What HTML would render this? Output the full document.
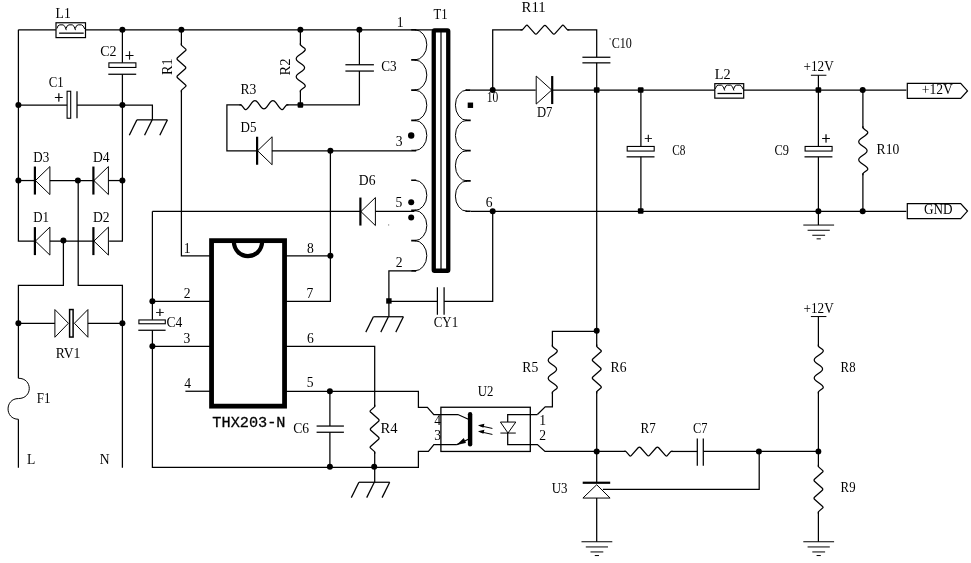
<!DOCTYPE html>
<html lang="en"><head><meta charset="utf-8"><title>THX203-N 12V flyback power supply schematic</title>
<style>html,body{margin:0;padding:0;background:#fff}svg{display:block}text{font-family:"Liberation Serif",serif;fill:#000}</style></head><body>
<svg width="971" height="563" viewBox="0 0 971 563">
<rect width="971" height="563" fill="#fff"/>
<g transform="translate(0.4,0.25)">
<g>
<rect x="55.6" y="22.5" width="29.5" height="14.85" fill="#fff" stroke="#000" stroke-width="1.2"/>
<rect x="66.7" y="91" width="3.6" height="27" fill="#fff" stroke="#000" stroke-width="1.1"/>
<rect x="108.5" y="62.6" width="27" height="4.6" fill="#fff" stroke="#000" stroke-width="1.1"/>
<line x1="34.5" y1="166.3" x2="34.5" y2="194.3" stroke="#000" stroke-width="2.2"/>
<line x1="93" y1="166.3" x2="93" y2="194.3" stroke="#000" stroke-width="2.2"/>
<line x1="34.5" y1="226.85" x2="34.5" y2="254.85" stroke="#000" stroke-width="2.2"/>
<line x1="93" y1="226.85" x2="93" y2="254.85" stroke="#000" stroke-width="2.2"/>
<rect x="69.2" y="309.3" width="3.5" height="27.5" fill="#fff" stroke="#000" stroke-width="1.5"/>
<line x1="256.7" y1="136.5" x2="256.7" y2="164.5" stroke="#000" stroke-width="2.2"/>
<rect x="433.35" y="30.1" width="14.5" height="240.4" rx="0.8" fill="#fff" stroke="#000" stroke-width="4.3"/>
<line x1="440.6" y1="30" x2="440.6" y2="270" stroke="#000" stroke-width="1.2"/>
<rect x="467.3" y="102.3" width="5.4" height="5.4" fill="#000"/>
<line x1="360" y1="197.3" x2="360" y2="225.3" stroke="#000" stroke-width="2.2"/>
<rect x="385.8" y="298" width="5.4" height="5.4" fill="#000"/>
<rect x="387.6" y="224.2" width="1.2" height="1" fill="#777"/>
<rect x="211.15" y="240.4" width="73" height="165.5" fill="#fff" stroke="#000" stroke-width="4.8"/>
<path d="M233.4,241 C234,260.8 261.2,260.8 261.8,241" fill="none" stroke="#000" stroke-width="4.2"/>
<rect x="138.5" y="319.7" width="26.4" height="3.8" fill="#fff" stroke="#000" stroke-width="1.1"/>
<rect x="440.5" y="407" width="89.4" height="44.2" fill="none" stroke="#000" stroke-width="1.3"/>
<line x1="469.7" y1="414" x2="469.7" y2="444" stroke="#000" stroke-width="4.4" stroke-linecap="round"/>
<path d="M457,444.2 L463.2,438.2 L465.2,442.4 Z" fill="#000" stroke="#000" stroke-width="0.6"/>
<path d="M477.6,425 L484,423.6 L483,427.6 Z M477.6,431 L484,429.6 L483,433.6 Z" fill="#000"/>
<line x1="551.8" y1="75.8" x2="551.8" y2="103.8" stroke="#000" stroke-width="2.2"/>
<rect x="714.4" y="83.4" width="28.9" height="14.5" fill="#fff" stroke="#000" stroke-width="1.2"/>
<path d="M906.9,83.2 H960.3 L967.1,90.7 L960.3,98.2 H906.9 Z" fill="#fff" stroke="#000" stroke-width="1.2"/>
<path d="M906.9,203.3 H960.3 L967.1,210.8 L960.3,218.3 H906.9 Z" fill="#fff" stroke="#000" stroke-width="1.2"/>
<rect x="626.8" y="146.2" width="27" height="4.6" fill="#fff" stroke="#000" stroke-width="1.1"/>
<rect x="804.7" y="146.2" width="27" height="4.6" fill="#fff" stroke="#000" stroke-width="1.1"/>
<line x1="582.3" y1="482.5" x2="609.8" y2="482.5" stroke="#000" stroke-width="2.2"/>
</g>
<g fill="none" stroke="#000" stroke-width="1.25" stroke-linejoin="miter">
<path d="M18,29.5 L55.5,29.5"/>
<path d="M85.1,29.5 L432,29.5"/>
<path d="M58.7,32.9 L83.3,32.9"/>
<path d="M18,29.5 L18,240.85 L34.5,240.85"/>
<path d="M18,104.8 L66.7,104.8"/>
<path d="M76.6,91 L76.6,118"/>
<path d="M76.6,104.8 L152,104.8 L152,119.6"/>
<path d="M136.5,119.6 L167,119.6"/>
<path d="M136.5,119.6 L128.9,135"/>
<path d="M151.75,119.6 L144.15,135"/>
<path d="M167,119.6 L159.4,135"/>
<path d="M122,29.5 L122,62.5"/>
<path d="M107.9,74 L135.8,74"/>
<path d="M122,74 L122,240.85 L108.75,240.85"/>
<path d="M18,180.3 L34.5,180.3"/>
<path d="M49.5,180.3 L93,180.3"/>
<path d="M108,180.3 L122,180.3"/>
<path d="M49.5,240.85 L93,240.85"/>
<path d="M77.8,180 L77.8,285 L122,285 L122,467.5"/>
<path d="M63,240.5 L63,285 L18,285 L18,378"/>
<path d="M18,419 L18,467.5"/>
<path d="M18,323 L54.5,323"/>
<path d="M87.5,323 L122,323"/>
<path d="M181,29.5 L181,45"/>
<path d="M181,43 L181,44.72 Q181,45 181.71,45.63 L185.39,48.87 Q186.1,49.5 184.67,50.76 L177.33,57.24 Q175.9,58.5 177.33,59.76 L184.67,66.24 Q186.1,67.5 184.67,68.76 L177.33,75.24 Q175.9,76.5 177.33,77.76 L184.67,84.24 Q186.1,85.5 185.39,86.13 L181.71,89.37 Q181,90 181,90.28 L181,92"/>
<path d="M181,90 L181,255.5 L210.5,255.5"/>
<path d="M300,29.5 L300,45"/>
<path d="M300,43 L300,44.34 Q300,45 302.08,46.48 L304.22,48.02 Q306.3,49.5 302.14,52.47 L297.86,55.53 Q293.7,58.5 297.86,61.47 L302.14,64.53 Q306.3,67.5 302.14,70.47 L297.86,73.53 Q293.7,76.5 297.86,79.47 L302.14,82.53 Q306.3,85.5 304.22,86.98 L302.08,88.52 Q300,90 300,90.66 L300,92"/>
<path d="M300,90 L300,104.5"/>
<path d="M359,29.5 L359,64.5"/>
<path d="M345,64.5 L373.5,64.5"/>
<path d="M345,70.8 L373.5,70.8"/>
<path d="M359,70.8 L359,104.5 L286,104.5"/>
<path d="M239,104.5 L240.34,104.5 Q241,104.5 242.49,106.58 L244.01,108.72 Q245.5,110.8 248.47,106.64 L251.53,102.36 Q254.5,98.2 257.47,102.36 L260.53,106.64 Q263.5,110.8 266.47,106.64 L269.53,102.36 Q272.5,98.2 275.47,102.36 L278.53,106.64 Q281.5,110.8 282.99,108.72 L284.51,106.58 Q286,104.5 286.66,104.5 L288,104.5"/>
<path d="M241,104.5 L226.5,104.5 L226.5,150.5 L256.7,150.5"/>
<path d="M271.5,150.5 L411,150.5"/>
<path d="M330,150.5 L330,301 L285.5,301"/>
<path d="M285.5,255.5 L330,255.5"/>
<path d="M152,211.1 L360,211.1"/>
<path d="M375,211.1 L414,211.1"/>
<path d="M411,270.6 L388.5,270.6 L388.5,316.5"/>
<path d="M373,316.5 L403,316.5"/>
<path d="M373,316.5 L365.4,331.9"/>
<path d="M388,316.5 L380.4,331.9"/>
<path d="M403,316.5 L395.4,331.9"/>
<path d="M388.5,301 L437,301"/>
<path d="M437,287 L437,314.5"/>
<path d="M443.7,287 L443.7,314.5"/>
<path d="M443.7,301 L492.3,301 L492.3,211"/>
<path d="M152,211.1 L152,319.5"/>
<path d="M137.9,330 L165.2,330"/>
<path d="M152,330 L152,467 L418,467 L418,451.2 L428,451.2 L433.5,444.4 L456.5,444.4"/>
<path d="M152,301 L210.5,301"/>
<path d="M152,346 L210.5,346"/>
<path d="M185,391 L210.5,391"/>
<path d="M285.5,346 L374.3,346 L374.3,406.5"/>
<path d="M374.3,404.5 L374.3,406.22 Q374.3,406.5 373.59,407.13 L369.91,410.37 Q369.2,411 370.63,412.26 L377.97,418.74 Q379.4,420 377.97,421.26 L370.63,427.74 Q369.2,429 370.63,430.26 L377.97,436.74 Q379.4,438 377.97,439.26 L370.63,445.74 Q369.2,447 369.91,447.63 L373.59,450.87 Q374.3,451.5 374.3,451.78 L374.3,453.5"/>
<path d="M374.3,451.5 L374.3,482"/>
<path d="M358.5,482 L389.3,482"/>
<path d="M358.5,482 L350.9,497.4"/>
<path d="M373.9,482 L366.3,497.4"/>
<path d="M389.3,482 L381.7,497.4"/>
<path d="M285.5,391 L418,391 L418,407 L427,407 L433.4,414.3 L457.5,414.3 L468,419"/>
<path d="M329.5,391 L329.5,425.8"/>
<path d="M316.2,425.8 L343.5,425.8"/>
<path d="M316.2,432 L343.5,432"/>
<path d="M329.5,432 L329.5,467"/>
<path d="M456.5,444.4 L468,439"/>
<path d="M537,414.3 L507.3,414.3 L507.3,421.8"/>
<path d="M507.3,432.8 L507.3,444.4 L537,444.4 L544.6,451.2 L625.5,451.2"/>
<path d="M470.5,89.8 L535.3,89.8"/>
<path d="M551.8,89.8 L714.4,89.8"/>
<path d="M743.3,89.8 L906,89.8"/>
<path d="M492.3,89.8 L492.3,29.5 L522,29.5"/>
<path d="M520,29.5 L521.72,29.5 Q522,29.5 522.63,28.79 L525.87,25.11 Q526.5,24.4 527.76,25.83 L534.24,33.17 Q535.5,34.6 536.76,33.17 L543.24,25.83 Q544.5,24.4 545.76,25.83 L552.24,33.17 Q553.5,34.6 554.76,33.17 L561.24,25.83 Q562.5,24.4 563.13,25.11 L566.37,28.79 Q567,29.5 567.28,29.5 L569,29.5"/>
<path d="M567,29.5 L596.3,29.5 L596.3,57"/>
<path d="M582,57 L610,57"/>
<path d="M582,62.6 L610,62.6"/>
<path d="M596.3,62.6 L596.3,346.3"/>
<path d="M717.1,93.25 L741.7,93.25"/>
<path d="M470.5,211 L906,211"/>
<path d="M640.5,89.8 L640.5,146"/>
<path d="M626.2,156.6 L654.1,156.6"/>
<path d="M640.5,156.6 L640.5,211"/>
<path d="M818,75 L818,146"/>
<path d="M804.1,156.6 L832,156.6"/>
<path d="M818,156.6 L818,224.8"/>
<path d="M862.5,89.8 L862.5,128"/>
<path d="M862.5,126 L862.5,127.34 Q862.5,128 864.58,129.49 L866.72,131.01 Q868.8,132.5 864.64,135.47 L860.36,138.53 Q856.2,141.5 860.36,144.47 L864.64,147.53 Q868.8,150.5 864.64,153.47 L860.36,156.53 Q856.2,159.5 860.36,162.47 L864.64,165.53 Q868.8,168.5 866.72,169.99 L864.58,171.51 Q862.5,173 862.5,173.66 L862.5,175"/>
<path d="M862.5,173 L862.5,211"/>
<path d="M596.3,331 L552,331 L552,346.5"/>
<path d="M552,344.5 L552,345.84 Q552,346.5 554.08,347.99 L556.22,349.51 Q558.3,351 554.14,353.97 L549.86,357.03 Q545.7,360 549.86,362.97 L554.14,366.03 Q558.3,369 554.14,371.97 L549.86,375.03 Q545.7,378 549.86,380.97 L554.14,384.03 Q558.3,387 556.22,388.49 L554.08,390.01 Q552,391.5 552,392.16 L552,393.5"/>
<path d="M552,391.5 L552,406.5 L544.8,406.5 L537,414.3"/>
<path d="M596.3,344.3 L596.3,346.02 Q596.3,346.3 597.01,346.93 L600.69,350.17 Q601.4,350.8 599.97,352.06 L592.63,358.54 Q591.2,359.8 592.63,361.06 L599.97,367.54 Q601.4,368.8 599.97,370.06 L592.63,376.54 Q591.2,377.8 592.63,379.06 L599.97,385.54 Q601.4,386.8 600.69,387.43 L597.01,390.67 Q596.3,391.3 596.3,391.58 L596.3,393.3"/>
<path d="M596.3,391.3 L596.3,482"/>
<path d="M623.5,451.2 L625.22,451.2 Q625.5,451.2 626.13,451.91 L629.37,455.59 Q630,456.3 631.26,454.87 L637.74,447.53 Q639,446.1 640.26,447.53 L646.74,454.87 Q648,456.3 649.26,454.87 L655.74,447.53 Q657,446.1 658.26,447.53 L664.74,454.87 Q666,456.3 666.63,455.59 L669.87,451.91 Q670.5,451.2 670.78,451.2 L672.5,451.2"/>
<path d="M670.5,451.2 L696.9,451.2"/>
<path d="M696.9,438.3 L696.9,465.6"/>
<path d="M702.9,438.3 L702.9,465.6"/>
<path d="M702.9,451.2 L818,451.2"/>
<path d="M758.8,451.2 L758.8,489 L602.5,489"/>
<path d="M596.3,497.8 L596.3,541.5"/>
<path d="M818,316.3 L818,346.3"/>
<path d="M818,344.3 L818,345.64 Q818,346.3 820.08,347.79 L822.22,349.31 Q824.3,350.8 820.14,353.77 L815.86,356.83 Q811.7,359.8 815.86,362.77 L820.14,365.83 Q824.3,368.8 820.14,371.77 L815.86,374.83 Q811.7,377.8 815.86,380.77 L820.14,383.83 Q824.3,386.8 822.22,388.29 L820.08,389.81 Q818,391.3 818,391.96 L818,393.3"/>
<path d="M818,391.3 L818,466.5"/>
<path d="M818,464.5 L818,466.22 Q818,466.5 818.71,467.13 L822.39,470.37 Q823.1,471 821.67,472.26 L814.33,478.74 Q812.9,480 814.33,481.26 L821.67,487.74 Q823.1,489 821.67,490.26 L814.33,496.74 Q812.9,498 814.33,499.26 L821.67,505.74 Q823.1,507 822.39,507.63 L818.71,510.87 Q818,511.5 818,511.78 L818,513.5"/>
<path d="M818,511.5 L818,541.5"/>
</g>
<g fill="none" stroke="#000" stroke-width="1.7">
<path d="M410.8,29.5 H415.8 M410.8,59.7 H415.8 M410.8,89.9 H415.8 M410.8,120.1 H415.8 M410.8,150.3 H415.8 "/>
<path d="M410.8,180 H415.8 M410.8,210.2 H415.8 M410.8,240.4 H415.8 M410.8,270.6 H415.8 "/>
<path d="M470.3,89.8 H465.1 M470.3,120.1 H465.1 M470.3,150.4 H465.1 M470.3,180.7 H465.1 M470.3,211 H465.1 "/>
</g>
<g fill="none" stroke="#000" stroke-width="1">
<path d="M56.5,28.3 Q57.4,24.6 59.4,24.6 H62.7 Q64.8,25.2 65.9,29.9 M65.7,28.3 Q66.6,24.6 68.6,24.6 H71.9 Q74,25.2 75.1,29.9 M74.9,28.3 Q75.8,24.6 77.8,24.6 H81.1 Q83.2,25.2 84.3,28.7 "/>
<path d="M35,180.3 L49.5,166.3 L49.5,194.3 L35,180.3"/>
<path d="M93.5,180.3 L108,166.3 L108,194.3 L93.5,180.3"/>
<path d="M35,240.85 L49.5,226.85 L49.5,254.85 L35,240.85"/>
<path d="M93.5,240.85 L108,226.85 L108,254.85 L93.5,240.85"/>
<path d="M18,378 C32.5,378 32.5,398.3 18,398.3 C4.2,398.3 4.2,419 18,419"/>
<path d="M68,323 L54.5,309.3 L54.5,337 L68,323"/>
<path d="M74,323 L87.5,309.3 L87.5,337 L74,323"/>
<path d="M257.2,150.5 L271.7,136.5 L271.7,164.5 L257.2,150.5"/>
<path d="M414.3,29.5 A12.1,15.1 0 0 1 414.3,59.7 M414.3,59.7 A12.1,15.1 0 0 1 414.3,89.9 M414.3,89.9 A12.1,15.1 0 0 1 414.3,120.1 M414.3,120.1 A12.1,15.1 0 0 1 414.3,150.3 "/>
<path d="M414.3,180 A12.1,15.1 0 0 1 414.3,210.2 M414.3,210.2 A12.1,15.1 0 0 1 414.3,240.4 M414.3,240.4 A12.1,15.1 0 0 1 414.3,270.6 "/>
<path d="M466.6,89.8 A11.6,15.15 0 0 0 466.6,120.1 M466.6,120.1 A11.6,15.15 0 0 0 466.6,150.4 M466.6,150.4 A11.6,15.15 0 0 0 466.6,180.7 M466.6,180.7 A11.6,15.15 0 0 0 466.6,211 "/>
<path d="M360.5,211.3 L375,197.3 L375,225.3 L360.5,211.3"/>
<path d="M500,421.8 L515.4,421.8 L507.6,432.8 L500,421.8"/>
<path d="M500,432.8 L515.4,432.8"/>
<path d="M478.5,425.2 L492,428.2"/>
<path d="M478.5,431.2 L492,434.2"/>
<path d="M551.3,89.8 L535.8,75.8 L535.8,103.8 L551.3,89.8"/>
<path d="M714.9,88.65 Q715.8,84.95 717.8,84.95 H721.1 Q723.2,85.55 724.3,90.25 M724.1,88.65 Q725,84.95 727,84.95 H730.3 Q732.4,85.55 733.5,90.25 M733.3,88.65 Q734.2,84.95 736.2,84.95 H739.5 Q741.6,85.55 742.7,89.05 "/>
<path d="M810.5,75 L826,75"/>
<path d="M802.9,224.8 L833.7,224.8"/>
<path d="M807.2,230 L829.4,230"/>
<path d="M811.9,235 L824.7,235"/>
<path d="M816.2,238.6 L820.4,238.6"/>
<path d="M596.3,484.5 L582.5,497.8 L609.7,497.8 L596.3,484.5"/>
<path d="M581.1,541.5 L611.9,541.5"/>
<path d="M585.4,546.7 L607.6,546.7"/>
<path d="M590.1,551.7 L602.9,551.7"/>
<path d="M594.4,555.3 L598.6,555.3"/>
<path d="M810.5,316.3 L826,316.3"/>
<path d="M802.9,541.5 L833.7,541.5"/>
<path d="M807.2,546.7 L829.4,546.7"/>
<path d="M811.9,551.7 L824.7,551.7"/>
<path d="M816.2,555.3 L820.4,555.3"/>
</g>
<g fill="#000">
<circle cx="18" cy="104.8" r="3"/>
<circle cx="18" cy="180.3" r="3"/>
<circle cx="122" cy="29.5" r="3"/>
<circle cx="122" cy="104.8" r="3"/>
<circle cx="122" cy="180.3" r="3"/>
<circle cx="77.5" cy="180.3" r="3"/>
<circle cx="63" cy="240.3" r="3"/>
<circle cx="18" cy="323" r="3"/>
<circle cx="122" cy="323" r="3"/>
<circle cx="181" cy="29.5" r="3"/>
<circle cx="300" cy="29.5" r="3"/>
<circle cx="359" cy="29.5" r="3"/>
<circle cx="330" cy="150.5" r="3"/>
<circle cx="330" cy="255.5" r="3"/>
<circle cx="410.8" cy="135.2" r="3.2"/>
<circle cx="410.8" cy="202" r="3"/>
<circle cx="410.8" cy="217.2" r="3"/>
<circle cx="152" cy="301" r="3"/>
<circle cx="152" cy="346" r="3"/>
<circle cx="373.8" cy="466.5" r="3"/>
<circle cx="329.5" cy="391" r="3"/>
<circle cx="329.5" cy="466.5" r="3"/>
<circle cx="492.3" cy="89.8" r="3"/>
<circle cx="862.3" cy="89.8" r="3"/>
<circle cx="492.3" cy="211" r="3"/>
<circle cx="818" cy="211" r="3"/>
<circle cx="862.3" cy="211" r="3"/>
<circle cx="596.3" cy="330.5" r="3"/>
<circle cx="596.3" cy="451.2" r="3"/>
<circle cx="758.5" cy="451.2" r="3"/>
<circle cx="818" cy="451.2" r="2.9"/>
<rect x="297.2" y="101.9" width="5.6" height="5.6" rx="1" fill="#000"/>
<rect x="593.5" y="87" width="5.6" height="5.6" rx="1" fill="#000"/>
<rect x="637.5" y="87" width="5.6" height="5.6" rx="1" fill="#000"/>
<rect x="815.2" y="87" width="5.6" height="5.6" rx="1" fill="#000"/>
<rect x="637.5" y="207.9" width="5.6" height="5.6" rx="1" fill="#000"/>
</g>
</g>
<g opacity="0.999">
<text x="55.59" y="18.4" font-size="13.6">L1</text>
<text transform="translate(100.19,56.25) scale(1.03,1)" font-size="13.6">C2</text>
<text transform="translate(48.69,87.2) scale(0.94,1)" font-size="13.6">C1</text>
<text x="124.98" y="60.82" font-size="16" stroke="#000" stroke-width="0.35">+</text>
<text x="54.33" y="103.02" font-size="16" stroke="#000" stroke-width="0.35">+</text>
<text transform="translate(33.21,162) scale(0.96,1)" font-size="13.6">D3</text>
<text x="92.89" y="162" font-size="13.6">D4</text>
<text transform="translate(33.21,222.3) scale(0.95,1)" font-size="13.6">D1</text>
<text x="92.89" y="222.3" font-size="13.6">D2</text>
<text x="55.69" y="358.1" font-size="13.6">RV1</text>
<text transform="translate(36.81,402.5) scale(0.95,1)" font-size="13.6">F1</text>
<text x="26.93" y="463.7" font-size="13.6">L</text>
<text x="99.79" y="463.7" font-size="13.6">N</text>
<text transform="translate(172,74.93) rotate(-90) scale(1.04,1)" font-size="13.6">R1</text>
<text transform="translate(290,75.44) rotate(-90) scale(1.07,1)" font-size="13.6">R2</text>
<text x="240.49" y="94.2" font-size="13.6">R3</text>
<text transform="translate(240.51,131.7) scale(0.96,1)" font-size="13.6">D5</text>
<text transform="translate(381.22,71.25) scale(0.97,1)" font-size="13.6">C3</text>
<text transform="translate(433.5,18.6) scale(0.93,1)" font-size="13.6">T1</text>
<text x="396.75" y="26.6" font-size="13.6">1</text>
<text x="395.78" y="146.4" font-size="13.6">3</text>
<text x="395.46" y="206.5" font-size="13.6">5</text>
<text x="395.79" y="267" font-size="13.6">2</text>
<text x="358.84" y="184.75" font-size="13.6">D6</text>
<text x="485.65" y="206.5" font-size="13.6">6</text>
<text transform="translate(486.77,101.7) scale(0.85,1)" font-size="13.6">10</text>
<text transform="translate(521.56,11.75) scale(1.09,1)" font-size="13.6">R11</text>
<text transform="translate(536.92,116.5) scale(0.93,1)" font-size="13.6">D7</text>
<text transform="translate(611.76,48) scale(0.89,1)" font-size="13.6">C10</text>
<text x="609.2" y="44" font-size="9">'</text>
<text transform="translate(714.77,79.3) scale(1.05,1)" font-size="13.6">L2</text>
<text transform="translate(803.59,70.75) scale(0.97,1)" font-size="13.6">+12V</text>
<text x="921.82" y="93.9" font-size="13.6">+12V</text>
<text transform="translate(924.07,214.4) scale(0.97,1)" font-size="13.6">GND</text>
<text transform="translate(672.25,154.5) scale(0.83,1)" font-size="13.6">C8</text>
<text transform="translate(774.5,154.5) scale(0.91,1)" font-size="13.6">C9</text>
<text x="644.3" y="143.42" font-size="14.5" stroke="#000" stroke-width="0.35">+</text>
<text x="821.48" y="143.92" font-size="16" stroke="#000" stroke-width="0.35">+</text>
<text x="876.59" y="153.5" font-size="13.6">R10</text>
<text transform="translate(803.59,312.5) scale(0.97,1)" font-size="13.6">+12V</text>
<text transform="translate(840.62,371.5) scale(0.94,1)" font-size="13.6">R8</text>
<text transform="translate(840.62,491.5) scale(0.94,1)" font-size="13.6">R9</text>
<text x="522.34" y="371.5" font-size="13.6">R5</text>
<text x="610.59" y="371.5" font-size="13.6">R6</text>
<text transform="translate(640.61,432.5) scale(0.96,1)" font-size="13.6">R7</text>
<text transform="translate(693.01,432.5) scale(0.91,1)" font-size="13.6">C7</text>
<text transform="translate(551.74,492.75) scale(0.95,1)" font-size="13.6">U3</text>
<text transform="translate(477.74,395.8) scale(0.94,1)" font-size="13.6">U2</text>
<text x="434.32" y="425" font-size="13.6">4</text>
<text x="434.18" y="440" font-size="13.6">3</text>
<text x="539.2" y="425" font-size="13.6">1</text>
<text x="539.17" y="440" font-size="13.6">2</text>
<text transform="translate(433.73,326.9) scale(0.95,1)" font-size="13.6">CY1</text>
<text x="166.46" y="327" font-size="13.6">C4</text>
<text x="155.42" y="316.75" font-size="15.5" stroke="#000" stroke-width="0.35">+</text>
<text x="293.21" y="432.5" font-size="13.6">C6</text>
<text transform="translate(380.56,432.5) scale(1.08,1)" font-size="13.6">R4</text>
<text x="183.65" y="253" font-size="13.6">1</text>
<text x="183.67" y="297.5" font-size="13.6">2</text>
<text x="183.58" y="342.75" font-size="13.6">3</text>
<text x="184.32" y="387.7" font-size="13.6">4</text>
<text x="307" y="253.3" font-size="13.6">8</text>
<text x="306.61" y="297.5" font-size="13.6">7</text>
<text x="306.9" y="342.75" font-size="13.6">6</text>
<text x="306.86" y="387" font-size="13.6">5</text>
<text transform="translate(212.35,426.6) scale(0.984,1)" style="font-family:'Liberation Mono',monospace" font-size="15.5" stroke="#000" stroke-width="0.3">THX203-N</text>
</g>
</svg></body></html>
